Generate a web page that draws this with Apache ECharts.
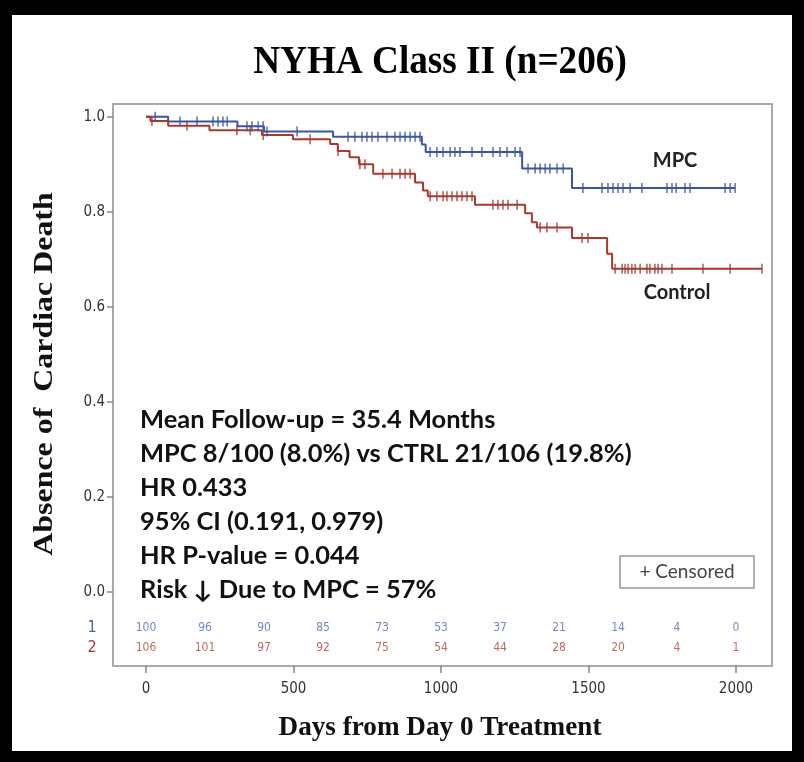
<!DOCTYPE html>
<html>
<head>
<meta charset="utf-8">
<script src="https://cdn.jsdelivr.net/npm/echarts@6/dist/echarts.min.js"></script>
<style>
html,body{margin:0;padding:0;background:#fff;}
#main{width:804px;height:762px;}
</style>
</head>
<body>
<div id="main"></div>
<script>
// Kaplan-Meier steps [day, survival]
var mpcSteps = [[0,1.0],[75,0.990],[310,0.980],[400,0.969],[634,0.958],[935,0.942],[948,0.926],[1275,0.891],[1444,0.850],[1997,0.850]];
var ctrlSteps = [[0,1.0],[15,0.991],[75,0.981],[215,0.972],[393,0.962],[498,0.953],[624,0.943],[650,0.928],[690,0.915],[722,0.900],[770,0.880],
  [912,0.862],[939,0.845],[955,0.833],[1115,0.815],[1285,0.797],[1308,0.778],[1325,0.767],[1444,0.745],[1563,0.712],[1580,0.680],[2088,0.680]];
// censored days
var mpcCensor = [31,115,173,227,244,261,275,342,359,380,397,410,512,685,708,732,749,766,786,817,844,861,878,895,912,929,963,986,1007,1031,1047,1064,
  1105,1139,1176,1200,1224,1251,1268,1295,1319,1336,1353,1369,1393,1414,1481,1546,1566,1583,1600,1617,1641,1681,1766,1783,1797,1827,1844,1963,1980,1997];
var ctrlCensor = [20,139,308,353,397,556,651,725,742,803,834,861,878,895,963,986,1007,1020,1037,1054,1071,1088,1105,1176,1193,1210,1227,1258,
  1336,1359,1393,1478,1498,1590,1614,1624,1634,1647,1658,1675,1698,1708,1725,1736,1749,1783,1888,1980,2088];
// numbers at risk
var riskDays = [0,200,400,600,800,1000,1200,1400,1600,1800,2000];
var mpcRisk = [100,96,90,85,73,53,37,21,14,4,0];
var ctrlRisk = [106,101,97,92,75,54,44,28,20,4,1];
var xTicks = [0,500,1000,1500,2000];
var yTicks = [0,0.2,0.4,0.6,0.8,1.0];
var notes = ['Mean Follow-up = 35.4 Months','MPC 8/100 (8.0%) vs CTRL 21/106 (19.8%)','HR 0.433','95% CI (0.191, 0.979)','HR P-value = 0.044','Risk \u2193 Due to MPC = 57%'];

var blue = '#3b55a5', red = '#a8392e';
var narrow = '"Liberation Sans Narrow","DejaVu Sans Condensed",sans-serif';

function survAt(steps, d){
  var v = steps[0][1];
  for (var i=0;i<steps.length;i++){ if (steps[i][0] <= d) v = steps[i][1]; }
  return v;
}
function censorPts(steps, days){ return days.map(function(d){ return [d, survAt(steps,d)]; }); }
function riskPts(counts, row){ return riskDays.map(function(d,i){ return [d, row, counts[i]]; }); }

var chart = echarts.init(document.getElementById('main'));

function ctext(x, y, txt, font, fill, extra){
  var el = {type:'text', x:x, y:y, style:{text:txt, font:font, fill:fill, textAlign:'center', textVerticalAlign:'middle', align:'center', verticalAlign:'middle'}};
  for (var k in extra) el[k] = extra[k];
  return el;
}

var graphics = [
  ctext(440, 63, 'NYHA Class II (n=206)', 'bold 40px "Liberation Serif"', '#000', {scaleX:0.93}),
  ctext(440, 728, 'Days from Day 0 Treatment', 'bold 28px "Liberation Serif"', '#111', {scaleX:0.97}),
  ctext(45, 374, 'Absence of  Cardiac Death', 'bold 28px "Liberation Serif"', '#111', {scaleX:1.14, rotation:Math.PI/2}),
  ctext(675, 161, 'MPC', 'bold 20px Lato, sans-serif', '#222'),
  ctext(677, 293, 'Control', 'bold 20px Lato, sans-serif', '#222'),
  {type:'rect', shape:{x:620, y:556, width:134, height:32}, style:{fill:'#fff', stroke:'#999', lineWidth:1.5}},
  ctext(687, 572, '+ Censored', '19px Lato, sans-serif', '#444'),
  // outer black frame
  {type:'rect', shape:{x:0, y:0, width:804, height:15}, style:{fill:'#000'}},
  {type:'rect', shape:{x:0, y:0, width:12, height:762}, style:{fill:'#000'}},
  {type:'rect', shape:{x:792, y:0, width:12, height:762}, style:{fill:'#000'}},
  {type:'rect', shape:{x:0, y:751, width:804, height:11}, style:{fill:'#000'}}
];
notes.forEach(function(t,i){
  graphics.push({type:'text', x:140, y:420 + i*34, scaleX:1.06, style:{text:t, font:'bold 24px Lato, "DejaVu Sans", sans-serif', fill:'#111', textVerticalAlign:'middle', verticalAlign:'middle'}});
});

var option = {
  animation:false,
  backgroundColor:'#fff',
  grid:{left:113, right:32, top:104, bottom:96, show:true, borderColor:'#aaa', borderWidth:2, backgroundColor:'transparent'},
  xAxis:{type:'value', min:-112, max:2122,
    axisLine:{show:false, onZero:false},
    axisTick:{show:true, length:7, customValues:xTicks, lineStyle:{color:'#888', width:1.5}},
    axisLabel:{customValues:xTicks, margin:16, fontSize:15, fontFamily:narrow, color:'#333', formatter:function(v){return String(v);}},
    splitLine:{show:false}},
  yAxis:{type:'value', min:-0.156, max:1.027,
    axisLine:{show:false, onZero:false},
    axisTick:{show:true, length:6, customValues:yTicks, lineStyle:{color:'#888', width:1.5}},
    axisLabel:{customValues:yTicks, margin:8, fontSize:15, fontFamily:narrow, color:'#333', formatter:function(v){return v.toFixed(1);}},
    splitLine:{show:false}},
  series:[
    {name:'MPC', type:'line', step:'end', data:mpcSteps, showSymbol:false, lineStyle:{color:blue, width:2}, z:3},
    {name:'Control', type:'line', step:'end', data:ctrlSteps, showSymbol:false, lineStyle:{color:red, width:2}, z:3},
    {type:'scatter', data:censorPts(mpcSteps, mpcCensor), symbol:'rect', symbolSize:[1.6,10], itemStyle:{color:blue}, z:4},
    {type:'scatter', data:censorPts(ctrlSteps, ctrlCensor), symbol:'rect', symbolSize:[1.6,10], itemStyle:{color:red}, z:4},
    {type:'scatter', data:riskPts(mpcRisk, -0.076), symbolSize:0, itemStyle:{color:'rgba(0,0,0,0)'},
      label:{show:true, position:'inside', formatter:function(p){return p.value[2];}, fontSize:12, fontFamily:narrow, color:'#5068b0'}},
    {type:'scatter', data:riskPts(ctrlRisk, -0.118), symbolSize:0, itemStyle:{color:'rgba(0,0,0,0)'},
      label:{show:true, position:'inside', formatter:function(p){return p.value[2];}, fontSize:12, fontFamily:narrow, color:'#b04236'}}
  ],
  graphic:graphics
};
chart.setOption(option);

// group labels left of the at-risk rows
var p1 = chart.convertToPixel({gridIndex:0}, [0, -0.076]);
var p2 = chart.convertToPixel({gridIndex:0}, [0, -0.118]);
graphics.push(ctext(92, p1[1], '1', '16px ' + narrow, '#4a63b0'));
graphics.push(ctext(92, p2[1], '2', '16px ' + narrow, '#a8392e'));
chart.setOption({graphic:graphics});
</script>
</body>
</html>
